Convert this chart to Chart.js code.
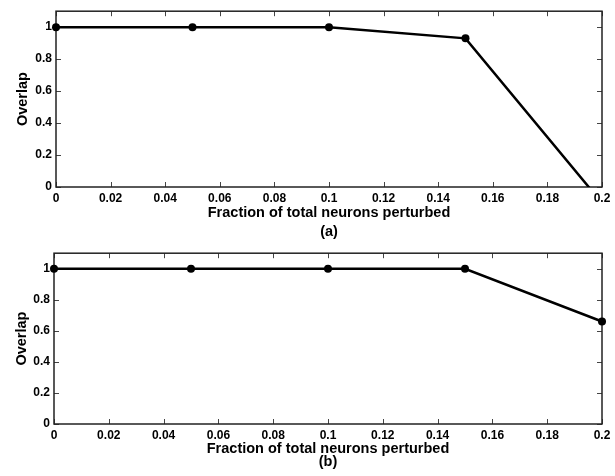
<!DOCTYPE html>
<html>
<head>
<meta charset="utf-8">
<title>Overlap vs fraction of neurons perturbed</title>
<script src="https://cdn.jsdelivr.net/npm/chart.js@4.4.1/dist/chart.umd.min.js"></script>
<style>
  html, body { margin: 0; padding: 0; background: #fff; }
  #wrap { position: relative; width: 615px; height: 476px; overflow: hidden; }
  .panel { position: absolute; left: 0; }
  #panelA { top: 0; }
  #panelB { top: 242px; }
</style>
</head>
<body>
<div id="wrap">
  <canvas id="panelA" class="panel" width="615" height="242"></canvas>
  <canvas id="panelB" class="panel" width="615" height="234"></canvas>
</div>
<script>
// ── Data ──────────────────────────────────────────────────────────────────
const fraction = [0, 0.05, 0.1, 0.15, 0.2];
const overlapA = [1, 1, 1, 0.93, -0.1];   // last point falls below the axis and is clipped
const overlapB = [1, 1, 1, 1, 0.66];

const xTicks = [0, 0.02, 0.04, 0.06, 0.08, 0.1, 0.12, 0.14, 0.16, 0.18, 0.2];
const yTicks = [0, 0.2, 0.4, 0.6, 0.8, 1];

const xTitle = 'Fraction of total neurons perturbed';
const yTitle = 'Overlap';

const FONT = '"Liberation Sans", Arial, Helvetica, sans-serif';

// ── Matlab-style box with inward ticks on all four sides ────────────────────
const matlabBox = {
  id: 'matlabBox',
  beforeDatasetsDraw(chart) {
    const { ctx, chartArea: a, scales: { x, y } } = chart;
    const len = 5;
    ctx.save();
    ctx.strokeStyle = '#444';
    ctx.lineWidth = 1;
    ctx.beginPath();
    xTicks.forEach(v => {
      const px = Math.round(x.getPixelForValue(v)) + 0.5;
      ctx.moveTo(px, a.bottom); ctx.lineTo(px, a.bottom - len);
      ctx.moveTo(px, a.top);    ctx.lineTo(px, a.top + len);
    });
    yTicks.forEach(v => {
      const py = Math.round(y.getPixelForValue(v)) + 0.5;
      ctx.moveTo(a.left, py);  ctx.lineTo(a.left + len, py);
      ctx.moveTo(a.right, py); ctx.lineTo(a.right - len, py);
    });
    ctx.stroke();
    ctx.strokeStyle = '#222';
    ctx.lineWidth = 1.5;
    ctx.strokeRect(a.left, a.top, a.right - a.left, a.bottom - a.top);
    ctx.restore();
  }
};

function fmt(v) {
  return String(+Number(v).toFixed(2));
}

function makePanel(id, values, tag, o) {
  return new Chart(document.getElementById(id), {
    type: 'line',
    data: {
      datasets: [{
        data: fraction.map((f, i) => ({ x: f, y: values[i] })),
        borderColor: '#000',
        backgroundColor: '#000',
        borderWidth: 2.5,
        pointRadius: 4,
        pointBackgroundColor: '#000',
        pointBorderWidth: 0,
        tension: 0,
        clip: { left: 10, right: 10, top: 10, bottom: 0 }
      }]
    },
    options: {
      responsive: false,
      animation: false,
      events: [],
      layout: { padding: { top: o.top, right: 13, bottom: 0, left: 0 } },
      plugins: { legend: { display: false }, tooltip: { enabled: false } },
      scales: {
        x: {
          type: 'linear',
          min: 0,
          max: 0.2,
          grid: { display: false, drawTicks: false },
          border: { display: false },
          afterBuildTicks: s => { s.ticks = xTicks.map(v => ({ value: v })); },
          afterFit: s => { s.height = o.xHeight; },
          ticks: {
            padding: 4,
            color: '#000',
            maxRotation: 0,
            autoSkip: false,
            font: { family: FONT, size: 12, weight: 'bold' },
            callback: fmt
          },
          title: {
            display: true,
            text: [xTitle, tag],
            color: '#000',
            padding: { top: 0, bottom: o.titleBottom },
            font: { family: FONT, size: 14.5, weight: 'bold', lineHeight: o.titleLine }
          }
        },
        y: {
          min: 0,
          max: 1.1,
          grid: { display: false, drawTicks: false },
          border: { display: false },
          afterBuildTicks: s => { s.ticks = yTicks.map(v => ({ value: v })); },
          afterFit: s => { s.width = o.yWidth; },
          ticks: {
            padding: 4,
            color: '#000',
            font: { family: FONT, size: 12, weight: 'bold' },
            callback: fmt
          },
          title: {
            display: true,
            text: yTitle,
            color: '#000',
            padding: { top: o.yTitlePad, bottom: 0 },
            font: { family: FONT, size: 14.5, weight: 'bold' }
          }
        }
      }
    },
    plugins: [matlabBox]
  });
}

makePanel('panelA', overlapA, '(a)', {
  top: 9, xHeight: 55, yWidth: 56, yTitlePad: 14, titleBottom: 0, titleLine: 1.35
});
makePanel('panelB', overlapB, '(b)', {
  top: 11, xHeight: 52, yWidth: 54, yTitlePad: 13, titleBottom: 8, titleLine: 0.86
});
</script>
</body>
</html>
